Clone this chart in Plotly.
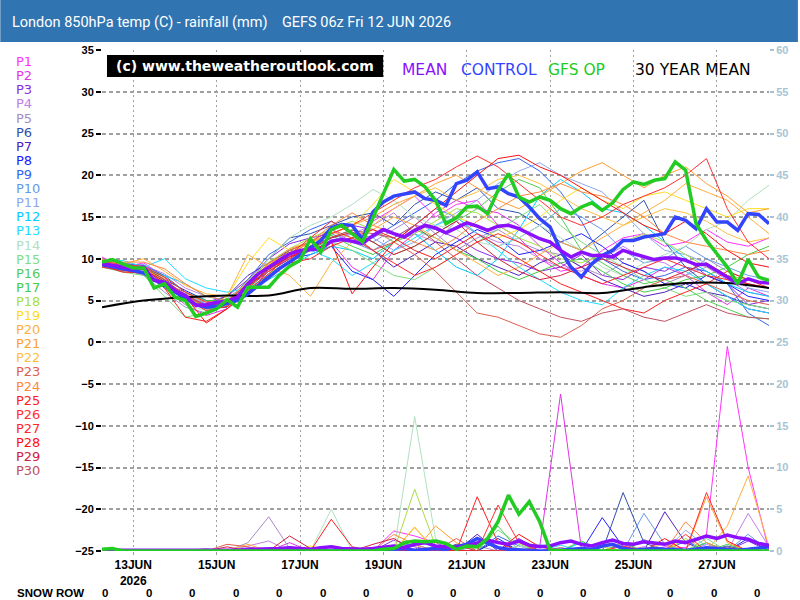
import plotly.graph_objects as go
import pandas as pd

# ---------------- data ----------------
times6 = pd.date_range("2026-06-12 06:00", periods=65, freq="6h")
times12 = pd.date_range("2026-06-12 06:00", periods=33, freq="12h")
times24 = pd.date_range("2026-06-12 06:00", periods=17, freq="24h")

tick_dates = pd.date_range("2026-06-13", periods=8, freq="48h")
tick_text = ["13JUN<br>2026", "15JUN", "17JUN", "19JUN", "21JUN", "23JUN", "25JUN", "27JUN"]

member_names = ["P%d" % i for i in range(1, 31)]
member_colors = ["#ff33ff", "#e033e8", "#8a2be2", "#c080e8", "#a88cc8", "#3050b0", "#5020c0", "#2020ff",
                 "#3366ee", "#6699ee", "#8ca8f0", "#00ccff", "#22ddff", "#b0e0c0", "#80dd80", "#55cc55",
                 "#44cc44", "#a8dd44", "#ffdd22", "#ffb040", "#ffa030", "#ffc040", "#dd6050", "#ff8840",
                 "#ff2020", "#ff3030", "#ff2828", "#ff1010", "#d02040", "#c05060"]

# member 850hPa temperatures (12-hourly)
T_P1 = [10.2,9.0,9.5,7.8,5.0,4.0,4.5,6.5, 9.5,11.0,12.0,13.5,12.0,14.5,16.0,17.5, 15.0,16.5,17.0,14.0,12.5,10.0,8.5,9.0, 11.0,12.5,13.0,11.5,12.0,13.5,12.0,11.5, 12.5]
T_P2 = [9.5,8.6,8.8,6.5,4.5,3.2,4.0,6.0, 8.5,10.2,11.5,12.0,9.0,7.5,11.0,13.0, 15.5,17.0,16.0,15.5,14.0,11.5,9.5,8.0, 7.0,6.5,7.5,9.0,8.0,6.0,4.5,6.5, 5.5]
T_P3 = [9.0,9.2,8.5,7.0,6.0,4.8,5.5,7.5, 10.0,11.8,12.5,13.0,14.0,13.5,12.0,14.0, 13.5,12.5,11.0,10.0,9.5,8.5,9.0,10.5, 8.0,7.5,9.0,8.5,10.0,8.0,7.0,4.5, 5.0]
T_P4 = [9.8,9.5,9.2,8.2,6.5,5.5,5.0,6.0, 8.0,9.5,11.0,12.5,13.0,14.0,15.5,13.0, 12.0,14.5,13.0,12.0,11.5,10.0,9.0,8.5, 10.0,11.5,10.0,9.5,8.0,9.0,7.5,6.0, 5.5]
T_P5 = [9.2,8.8,8.0,6.0,4.2,3.5,4.5,6.5, 8.8,10.5,11.5,12.5,13.0,12.0,13.5,15.0, 13.0,11.0,12.5,13.5,12.0,11.0,10.5,9.0, 8.0,9.5,8.5,7.0,8.0,10.0,8.5,7.5, 7.0]
T_P6 = [9.0,8.5,9.0,7.0,5.5,4.0,4.2,7.0, 10.0,12.5,13.0,14.0,15.0,15.5,14.0,16.5, 18.0,17.0,18.5,16.0,15.5,14.0,12.0,11.0, 13.0,15.0,17.0,12.0,9.0,7.0,5.5,4.5, 4.0]
T_P7 = [9.6,9.0,8.2,6.8,5.0,4.5,5.5,8.0, 9.5,11.0,11.0,12.0,12.5,11.0,9.0,10.5, 12.0,11.5,10.0,9.0,8.0,9.5,10.5,9.0, 7.5,6.5,5.5,6.0,7.0,6.0,5.5,4.0, 3.5]
T_P8 = [9.4,8.8,8.6,7.5,6.2,5.0,5.0,6.8, 8.5,10.0,10.5,11.5,8.5,7.5,5.5,8.0, 10.5,12.0,13.5,12.5,10.5,11.0,12.0,13.0, 11.5,9.5,8.5,7.0,6.5,8.0,7.0,5.5, 5.0]
T_P9 = [9.8,9.4,9.2,8.0,6.0,4.5,4.8,7.5, 10.5,12.0,13.5,14.5,13.0,12.5,14.0,15.5, 17.0,19.0,20.5,21.5,22.0,20.5,18.0,14.5, 10.0,8.5,7.5,8.0,9.0,8.5,7.0,3.5, 2.0]
T_P10 = [9.3,8.9,9.3,7.5,5.2,4.0,4.6,6.8, 9.2,11.0,12.0,13.0,12.0,11.0,12.5,14.0, 16.0,15.0,13.0,11.5,12.5,14.0,16.0,15.0, 13.5,11.0,9.5,10.0,11.5,10.0,9.0,8.0, 7.5]
T_P11 = [9.0,8.6,8.5,7.0,5.8,4.6,5.2,7.2, 9.0,10.0,11.0,12.0,13.0,12.5,11.0,12.0, 14.0,15.5,17.0,19.0,20.5,21.5,20.0,19.0, 18.0,15.5,13.0,11.0,10.5,9.5,8.0,6.5, 6.0]
T_P12 = [9.5,9.0,8.7,8.0,7.0,5.5,5.0,6.0, 7.5,9.0,10.5,11.5,11.0,10.0,12.0,13.0, 11.0,9.0,8.0,10.0,13.5,17.5,19.5,18.0, 16.0,15.5,14.0,12.0,10.0,8.5,7.0,6.0, 5.5]
T_P13 = [9.7,9.8,9.0,10.0,7.6,6.5,6.0,6.5, 8.0,9.5,11.0,10.0,8.0,9.5,11.0,12.5, 14.0,15.0,13.0,11.0,9.0,7.5,6.0,5.0, 4.5,6.5,8.0,9.0,8.5,7.0,5.5,4.0, 3.5]
T_P14 = [9.2,8.6,8.6,7.2,4.5,3.8,4.8,7.0, 10.0,12.5,14.0,15.0,16.5,18.3,17.0,15.0, 14.0,13.5,12.0,11.5,12.5,14.0,12.5,11.0, 9.0,8.0,9.5,10.5,11.5,13.5,14.5,17.0, 18.8]
T_P15 = [9.0,8.4,8.0,5.5,3.0,3.5,4.5,6.5, 8.5,10.5,11.5,12.0,11.0,9.5,8.0,7.5, 9.0,10.5,12.0,13.5,15.0,16.5,14.0,12.0, 10.5,9.0,7.5,6.5,5.5,6.0,5.0,4.5, 4.0]
T_P16 = [9.3,8.8,8.4,7.0,5.5,4.0,4.4,6.2, 8.2,9.8,11.0,12.5,13.5,12.0,10.5,11.5, 13.0,14.5,16.0,18.0,19.5,18.5,15.0,11.0, 9.5,8.0,7.0,7.5,6.5,5.0,4.0,3.0, 2.8]
T_P17 = [9.6,9.0,9.0,7.8,6.0,5.0,5.0,6.5, 9.0,11.0,12.0,12.8,11.5,10.5,12.0,13.5, 12.5,11.0,10.0,8.5,7.5,8.5,9.5,10.0, 8.5,7.0,6.0,6.5,7.5,8.0,9.0,10.5, 11.5]
T_P18 = [9.5,9.1,8.9,7.4,5.3,4.2,4.8,7.4, 9.6,11.2,12.5,13.5,14.5,13.5,12.0,13.0, 14.5,16.0,15.5,14.0,12.5,11.5,10.0,9.5, 10.5,12.0,13.0,12.0,10.5,9.0,8.0,7.5, 7.0]
T_P19 = [9.0,8.8,9.0,7.0,5.0,4.0,5.5,9.5, 12.5,11.0,12.0,13.0,14.0,16.5,19.5,18.0, 16.5,15.0,14.0,12.5,13.5,15.0,17.0,18.5, 17.0,16.0,17.5,18.0,17.0,16.0,15.0,16.0, 16.0]
T_P20 = [9.8,9.4,10.0,8.5,6.8,5.8,5.5,10.5, 9.0,8.0,5.5,9.5,12.0,13.5,15.0,14.0, 12.5,11.0,9.5,8.0,9.0,10.5,12.0,11.0, 12.5,14.0,15.5,17.0,19.0,18.0,17.0,15.0, 13.0]
T_P21 = [9.4,9.0,8.8,7.6,5.5,4.2,4.5,7.0, 9.4,11.2,12.0,13.0,14.0,15.0,16.5,17.5, 19.0,20.0,18.5,17.0,16.0,17.5,19.0,20.5, 21.5,20.0,18.5,20.0,21.0,19.0,17.5,15.5, 16.0]
T_P22 = [9.1,8.7,8.7,7.2,5.8,4.8,5.0,7.2, 9.3,10.8,11.8,13.2,12.5,14.0,16.0,17.5, 18.5,17.0,18.0,19.5,20.0,19.0,17.5,16.0, 15.0,14.0,15.0,16.0,15.5,14.5,13.0,12.0, 12.5]
T_P23 = [9.6,9.2,9.0,7.5,5.5,4.3,5.0,7.0, 9.0,11.0,12.0,13.5,12.5,11.0,12.0,10.5, 8.5,6.0,3.5,3.0,2.0,1.0,0.6,2.0, 4.0,5.0,6.5,7.5,8.0,7.0,6.0,5.0, 4.5]
T_P24 = [9.9,9.6,9.6,8.8,7.0,5.5,5.0,7.0, 9.5,10.5,12.0,14.0,15.5,14.0,13.0,12.0, 11.0,12.5,14.5,16.0,17.5,18.0,19.0,18.0, 17.5,16.5,15.0,13.0,12.0,11.5,11.0,10.5, 11.0]
T_P25 = [9.2,8.4,8.3,6.5,3.0,2.5,4.0,6.0, 8.0,9.5,10.0,11.5,12.5,13.5,12.5,11.0, 10.0,11.5,13.0,11.5,10.0,8.5,7.0,6.0, 5.0,4.0,3.5,5.0,6.0,7.0,8.5,7.5, 6.5]
T_P26 = [9.7,9.3,9.1,7.8,6.0,4.8,4.8,6.5, 8.5,10.0,11.5,13.0,14.0,15.5,17.0,18.5, 19.5,21.0,22.3,21.0,19.0,17.0,15.0,14.0, 15.0,16.5,17.5,18.5,20.0,22.0,16.0,12.0, 10.0]
T_P27 = [9.0,8.6,8.2,6.8,5.2,3.8,4.3,6.2, 8.2,10.5,12.5,14.5,13.0,11.0,9.5,8.0, 9.0,10.5,12.0,13.0,12.0,10.5,9.0,8.0, 7.0,8.0,9.0,10.0,9.0,8.0,7.5,7.0, 6.5]
T_P28 = [9.5,8.9,8.8,7.0,5.5,2.3,4.0,6.8, 8.8,10.2,11.0,12.0,5.8,9.0,12.0,14.0, 16.0,18.0,20.0,22.0,22.4,21.0,20.0,18.5, 17.0,15.5,14.0,13.0,14.5,13.0,11.0,9.5, 9.0]
T_P29 = [9.3,8.8,8.7,7.3,5.7,4.4,4.7,6.7, 8.7,10.3,11.2,12.5,13.2,12.0,10.5,11.5, 13.0,14.5,12.0,10.0,8.5,7.5,8.0,9.0, 10.0,9.0,8.0,7.5,8.5,9.5,8.0,7.0, 6.5]
T_P30 = [9.4,9.0,9.0,7.5,5.6,4.4,4.9,7.0, 9.1,10.7,11.4,12.6,13.4,13.0,12.5,14.0, 12.0,10.0,8.0,6.5,5.0,4.0,3.0,2.5, 3.5,4.0,3.0,2.5,3.5,4.5,3.5,3.0, 2.8]

# member rainfall (mm, 12-hourly)
R_P1 = [0,0,0,0,0,0,0,0, 0,0,0,0,0,0,2.4,1.8, 1.0,0,0,0,0,0,0,0, 0,0,0,0.5,0.4,2.0,24.5,10.0, 0]
R_P2 = [0,0,0,0,0,0,0,0, 0,1.0,0,0,0,0,0,0, 0,0,0,0,0,0.5,18.8,0.3, 0,0,0.5,0,0,0,0,0, 0]
R_P3 = [0,0,0,0,0,0,0,0, 0,0,0,0,0,0,1.3,0.5, 0,0,0,0,1.5,0,0,0, 0,0.8,0,0,0,0,0,1.2, 0]
R_P4 = [0,0,0,0,0,0.3,0,0.6, 1.2,0,0,0,0,0,0,0, 0,0,0,0,0,0,0,0, 0,0,0,0,0,0.8,0,4.5, 0.5]
R_P5 = [0,0,0,0,0,0,0,1.0, 4.1,0.3,0,0,0,0,0,0, 0,0,0.6,0,0,0,0,0, 0,0,1.4,0,0,0,0,0, 0]
R_P6 = [0,0,0,0,0,0,0,0, 0,0,0,0,0,0,0,0, 0,0.8,0,1.2,0,0,0,0, 0,7.0,1.0,0,0,0,0.6,0, 0]
R_P7 = [0,0,0,0,0,0,0,0, 0,0,0,0,0,0,0,0, 0,0,2.0,0,0,0,0,0, 0,0,0,4.7,1.0,0,0,0, 0]
R_P8 = [0,0,0,0,0,0,0,0, 0,0,0,0,0,0,0,0, 0,0,0,1.5,0,0,0,0, 4.0,0.5,0,0,0,0,0,1.5, 0]
R_P9 = [0,0,0,0,0,0,0,0, 0,0,0,0,0,0,0,0, 0,0,0,1.8,0.6,0,0,0, 0,0,0,0,1.2,0,0,0, 0.8]
R_P10 = [0,0,0,0,0,0,0,0, 0,0,0,0,0,0,0,0, 0.5,0,0,0,0,0,0,0, 0,0,4.5,0.8,0,0,0,2.0, 0]
R_P11 = [0,0,0,0,0,0,0,0, 0,0,0,0,0,0,0,0, 0,0,0,0,0,0.8,0,0, 0,0,0,0,2.5,0.5,0,0, 0]
R_P12 = [0,0,0,0,0,0,0,0, 0,0,0,0,0,0,0.6,0.8, 0,0,0,0,0,0,0,1.0, 0,0,0,0,0,0,0.5,0, 0]
R_P13 = [0,0,0,0,0,0,0,0, 0,0,0,0,0,0,0,0, 0,0,0,0,0,0,0.7,0, 0.5,0,0,0,0,1.0,0,0, 0]
R_P14 = [0,0,0,0,0,0,0,0, 0,0,0,5.0,0,0,0,16.1, 1.5,0,0,0,0.6,0,0,0, 0,0,0.4,0,0,0,0,0, 0]
R_P15 = [0,0,0,0,0,0,0,0, 0,0,0,0,0,0,0,0, 0,0,0,2.5,0.8,0,0,0, 0,0,0,0,0,1.5,0,0, 0]
R_P16 = [0,0,0,0,0,0,0,0, 0,0,0,0,0,0,0,0, 0,0,0,3.0,0,0,0,0, 0,1.0,0,0,0,0,0.8,0, 0]
R_P17 = [0,0,0,0,0,0,0,0, 0,0,0,0,0,0.4,0,0, 0,0,0,0,0,0,0,1.2, 0,0,0,0,0,1.0,0,0, 0]
R_P18 = [0,0,0,0,0,0,0,0, 0,0,0,0,0,0,0,7.4, 0.6,0,0,0,0,0,0,0, 0,0,0,0,1.5,0,0,0, 0]
R_P19 = [0,0,0,0,0,0,0,0, 0,0,0.6,0,0,0,0,2.9, 0,0,0,0,0,0,0,0, 0.5,0,0,0,0,0,0,0, 0]
R_P20 = [0,0,0,0,0,0,0,0.8, 0,0,0,0,0,0,0,2.8, 0,0,0,0,0,0,0,0, 0,0,0,0,0,0,3.0,9.0, 0.5]
R_P21 = [0,0,0,0,0,0,0,0, 0,0,0,0,0,0,0,0, 3.0,1.0,0,0,0,0,0,0, 0,0,0,0,0,6.5,1.0,0, 0]
R_P22 = [0,0,0,0,0,0,0,0, 0,0,0,0,0,0,0.5,0, 0,0,0,0,0,0,0,0, 0,0,0,1.0,0,0,0,0, 0]
R_P23 = [0,0,0,0,0,0,0.8,0.5, 0,0,0,0,0,0,0,0, 0,1.5,0,0,0,0.6,0,0, 0,0,0,0,0,0,0,0, 0]
R_P24 = [0,0,0,0,0,0,0,0, 0,0,0,0,0,0,2.0,0.8, 0,0,0,0,0,0,0,0, 0,0,0,0,3.5,1.0,0,0, 0]
R_P25 = [0,0,0,0,0,0,0,0, 0,0,0,3.8,0.5,0,0,0, 0,0,6.5,1.0,0,0,0,0, 0,0,0,0,0,0,0,0, 0]
R_P26 = [0,0,0,0,0,0,0,0, 0,0,0,0,0,0,0,0, 0,0,0,5.5,1.0,0,0,0, 0,0,0,0,2.0,0,0,0, 0]
R_P27 = [0,0,0,0,0,0,0,0, 0,0,0,0,0,0,0,0, 0,0,0,0,0,0,0,0, 0,0.6,0,0,0,7.0,1.2,0, 0]
R_P28 = [0,0,0,0,0,0,0,0, 0,0,0,0,0,0,0,0, 0,0,0,0,2.0,0.5,0,0, 0,0,0,1.5,0,0,0,0, 0]
R_P29 = [0,0,0,0,0,0,0.5,0, 0,1.8,0.3,0,0,0.8,1.5,0, 0,0,0,0,0,0,0,0, 0,0,0,0,0,0,0,0, 0]
R_P30 = [0,0,0,0,0,0,0,0, 0,0,0,0,0,0,0,0, 0,0.7,0,0,0,0,0.4,0, 0,0,0,0,0,0,0.5,0, 0]

member_temps = [T_P1, T_P2, T_P3, T_P4, T_P5, T_P6, T_P7, T_P8, T_P9, T_P10, T_P11, T_P12, T_P13, T_P14, T_P15,
                T_P16, T_P17, T_P18, T_P19, T_P20, T_P21, T_P22, T_P23, T_P24, T_P25, T_P26, T_P27, T_P28, T_P29, T_P30]
member_rain = [R_P1, R_P2, R_P3, R_P4, R_P5, R_P6, R_P7, R_P8, R_P9, R_P10, R_P11, R_P12, R_P13, R_P14, R_P15,
               R_P16, R_P17, R_P18, R_P19, R_P20, R_P21, R_P22, R_P23, R_P24, R_P25, R_P26, R_P27, R_P28, R_P29, R_P30]

# ensemble mean / control / operational (6-hourly)
mean_temp = [9.4,9.2,8.9,8.8,9.0,7.4,7.2,6.2, 5.6,4.4,4.5,4.8,4.9,5.4,7.0,8.2, 9.0,9.8,10.6,11.0,11.1,11.2,12.1,12.3,
             12.1,11.8,12.8,13.5,13.0,12.6,13.4,14.0, 13.7,13.1,13.7,14.3,13.9,13.4,13.9,14.0, 13.6,13.0,12.4,12.0,11.0,10.2,10.8,10.4,
             10.4,10.2,11.0,10.6,10.2,9.9,10.1,10.1, 9.8,9.3,9.3,8.6,7.8,7.0,7.6,7.2, 7.1]
control_temp = [9.3,9.0,8.8,8.6,8.3,7.5,6.8,6.0, 5.3,4.5,4.2,4.3,4.6,5.0,5.8,6.8, 7.8,8.8,9.6,10.5,11.3,12.2,13.7,14.1,
                14.0,12.3,15.6,16.8,17.5,17.7,18.0,17.2, 17.0,16.4,19.0,19.4,20.4,18.4,18.6,17.8, 17.4,16.2,14.8,13.8,11.0,9.0,7.8,9.4,
                10.4,11.0,12.2,12.2,12.6,12.8,13.0,15.0, 14.6,13.6,16.0,14.4,14.4,13.4,15.4,15.3, 14.2]
op_temp = [9.6,9.9,9.4,8.9,8.9,6.5,7.0,5.4, 5.0,3.1,3.5,4.0,5.1,4.2,6.6,6.6, 6.6,8.0,9.1,9.8,12.4,10.8,13.5,14.0,
           13.0,12.0,14.9,17.8,20.7,19.3,19.5,18.6, 17.0,14.2,14.9,16.2,16.3,15.4,18.2,20.2, 17.4,16.8,17.4,17.0,16.0,15.4,16.2,16.7,
           15.8,16.7,18.3,19.2,18.9,19.4,19.6,21.6, 20.6,14.2,12.2,10.6,9.0,7.0,9.9,7.8, 7.4]

mean_rain = [0.1,0.1,0.1,0,0,0,0.1,0.1, 0.1,0,0.1,0.1,0.1,0.1,0.2,0.2, 0.3,0.3,0.4,0.3,0.2,0.4,0.5,0.3,
             0.2,0.2,0.3,0.4,0.6,0.4,0.8,1.0, 0.6,0.5,0.4,0.6,0.9,1.3,1.0,0.8, 1.2,0.7,0.5,0.6,1.0,1.2,0.8,0.6,
             1.0,1.3,0.9,0.8,1.1,1.0,0.8,1.2, 1.0,1.4,1.8,1.5,1.9,1.6,1.4,0.9, 0.7]
control_rain = [0,0,0,0,0,0,0,0, 0,0,0,0,0,0,0,0, 0,0,0,0,0,0,0.1,0.1,
                0,0,0,0,0.2,0.3,0.1,0.2, 0.3,0.2,0.5,0.8,1.5,1.0,0.4,0.2, 0.1,0,0,0,0.1,0.2,0.3,0.2,
                0.6,0.8,0.3,0.1,0.2,0.3,0.2,0.1, 0.1,0.2,0.4,0.3,0.2,0.1,0.2,0.4, 0.5]
op_rain = [0.2,0.3,0,0,0,0,0,0, 0,0,0,0,0,0,0,0, 0,0,0,0,0,0,0,0,
           0,0,0,0.2,0.3,1.0,1.2,1.1, 1.2,0.9,0.2,0.6,0.5,1.5,3.5,6.7, 4.4,5.9,3.5,0.1,0,0,0,0,
           0,0,0,0,0,0,0,0, 0,0,0,0,0,0,0,0, 0]

climate_temp = [4.2,5.0,5.4,5.6,5.6,6.5,6.4,6.5,6.3,5.9,5.9,6.0,5.9,6.6,7.1,7.1,6.5]

snow_row = [0] * 16

left_ticks = list(range(-25, 40, 5))
right_ticks = list(range(0, 65, 5))

# ---------------- layout geometry (pixels) ----------------
L, T, W, H = 102, 50, 669, 501


def px(x):
    return (x - L) / W


def py(y):
    return 1 - (y - T) / H


MEAN_C, CTRL_C, OP_C = "#8a10ff", "#3344ff", "#22cc22"
AXIS_BLUE = "#a8c4d4"

fig = go.Figure()

for name, col, tv, rv in zip(member_names, member_colors, member_temps, member_rain):
    fig.add_trace(go.Scatter(x=times12, y=tv, mode="lines", line=dict(color=col, width=1),
                             name=name, hoverinfo="skip", showlegend=False))
    fig.add_trace(go.Scatter(x=times12, y=rv, mode="lines", line=dict(color=col, width=1),
                             yaxis="y2", hoverinfo="skip", showlegend=False))

fig.add_trace(go.Scatter(x=times24, y=climate_temp, mode="lines", line=dict(color="black", width=2, shape="spline"),
                         hoverinfo="skip", showlegend=False))
fig.add_trace(go.Scatter(x=times6, y=control_temp, mode="lines", line=dict(color=CTRL_C, width=3.5),
                         hoverinfo="skip", showlegend=False))
fig.add_trace(go.Scatter(x=times6, y=control_rain, mode="lines", line=dict(color=CTRL_C, width=3.5),
                         yaxis="y2", hoverinfo="skip", showlegend=False))
fig.add_trace(go.Scatter(x=times6, y=mean_temp, mode="lines", line=dict(color=MEAN_C, width=3.5),
                         hoverinfo="skip", showlegend=False))
fig.add_trace(go.Scatter(x=times6, y=mean_rain, mode="lines", line=dict(color=MEAN_C, width=3.5),
                         yaxis="y2", hoverinfo="skip", showlegend=False))
fig.add_trace(go.Scatter(x=times6, y=op_temp, mode="lines", line=dict(color=OP_C, width=3.5),
                         hoverinfo="skip", showlegend=False))
fig.add_trace(go.Scatter(x=times6, y=op_rain, mode="lines", line=dict(color=OP_C, width=3.5),
                         yaxis="y2", hoverinfo="skip", showlegend=False))

annotations = []
# title
annotations.append(dict(text="London 850hPa temp (C) - rainfall (mm)\u00a0\u00a0\u00a0\u00a0GEFS 06z Fri 12 JUN 2026",
                        x=px(10), y=py(23), xref="paper", yref="paper", xanchor="left", yanchor="middle",
                        showarrow=False, font=dict(family="Roboto", size=14.5, color="white")))
# member labels
for i, (name, col) in enumerate(zip(member_names, member_colors)):
    annotations.append(dict(text=name, x=px(15), y=py(61.7 + i * 14.1), xref="paper", yref="paper",
                            xanchor="left", yanchor="middle", showarrow=False, borderpad=0, height=13,
                            font=dict(family="DejaVu Sans", size=13, color=col)))
# watermark
annotations.append(dict(text="(c) www.theweatheroutlook.com", x=px(245), y=py(66.5), xref="paper", yref="paper",
                        xanchor="center", yanchor="middle", showarrow=False,
                        font=dict(family="DejaVu Sans", size=14, color="white", weight="bold")))
# top legend
for txt, x0, col in [("MEAN", 401, MEAN_C), ("CONTROL", 460, CTRL_C), ("GFS OP", 547, OP_C),
                     ("30 YEAR MEAN", 635, "black")]:
    annotations.append(dict(text=txt, x=px(x0), y=py(69.5), xref="paper", yref="paper",
                            xanchor="left", yanchor="middle", showarrow=False,
                            font=dict(family="DejaVu Sans", size=15.5, color=col)))
# snow row
annotations.append(dict(text="SNOW ROW", x=px(15), y=py(592.5), xref="paper", yref="paper",
                        xanchor="left", yanchor="middle", showarrow=False,
                        font=dict(family="Liberation Sans", size=11.5, color="black", weight="bold")))
for k, v in enumerate(snow_row):
    annotations.append(dict(text=str(v), x=px(105.3 + k * 43.6), y=py(592.5), xref="paper", yref="paper",
                            xanchor="center", yanchor="middle", showarrow=False,
                            font=dict(family="Liberation Sans", size=11.5, color="black", weight="bold")))

shapes = [
    dict(type="rect", xref="paper", yref="paper", x0=px(0), x1=px(800), y0=py(42), y1=py(0),
         fillcolor="#3174b2", line=dict(width=0), layer="above"),
    dict(type="rect", xref="paper", yref="paper", x0=px(107), x1=px(384), y0=py(77), y1=py(55),
         fillcolor="black", line=dict(width=0), layer="above"),
]

fig.update_layout(
    width=800, height=600,
    margin=dict(l=L, r=800 - L - W, t=T, b=600 - T - H),
    paper_bgcolor="white", plot_bgcolor="white",
    hovermode=False,
    annotations=annotations,
    shapes=shapes,
    xaxis=dict(type="date", range=[times6[0], times6[-1]], tickvals=tick_dates, ticktext=tick_text,
               showgrid=True, gridcolor="#a0a0a0", griddash="2px,3px", gridwidth=1.3,
               ticks="outside", ticklen=3, tickcolor="#a0a0a0", showline=False, zeroline=False,
               tickfont=dict(family="Liberation Sans", size=12, color="black", weight="bold")),
    yaxis=dict(range=[-25, 35], tickvals=left_ticks, showgrid=True, gridcolor="#a0a0a0",
               griddash="4px,3px", gridwidth=1.6, zeroline=False, showline=False,
               ticks="outside", ticklen=5, tickcolor="black", tickwidth=1.5,
               tickfont=dict(family="Liberation Sans", size=11, color="black", weight="bold")),
    yaxis2=dict(range=[0, 60], tickvals=right_ticks, overlaying="y", side="right", showgrid=False,
                zeroline=False, showline=False, ticks="outside", ticklen=4, tickcolor=AXIS_BLUE, tickwidth=1.5,
                tickfont=dict(family="Liberation Sans", size=11, color=AXIS_BLUE, weight="bold")),
)

fig.write_html("out.html")
